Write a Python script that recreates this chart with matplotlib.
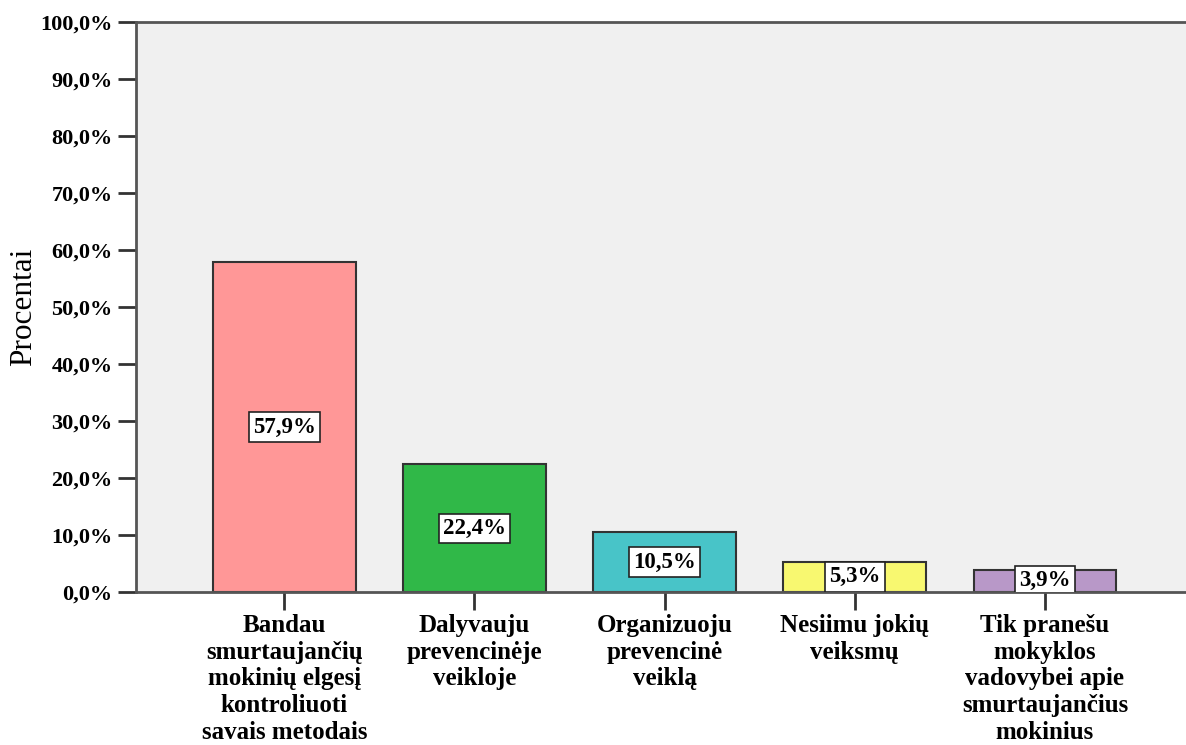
import matplotlib
matplotlib.use("Agg")
import matplotlib.pyplot as plt
from matplotlib.ticker import FuncFormatter, MultipleLocator

categories = [
    "Bandau\nsmurtaujančių\nmokinių elgesį\nkontroliuoti\nsavais metodais",
    "Dalyvauju\nprevencinėje\nveikloje",
    "Organizuoju\nprevencinė\nveiklą",
    "Nesiimu jokių\nveiksmų",
    "Tik pranešu\nmokyklos\nvadovybei apie\nsmurtaujančius\nmokinius",
]
values = [57.9, 22.4, 10.5, 5.3, 3.9]
colors = ["#FF9797", "#30B848", "#48C4C8", "#F8F870", "#B898C8"]
ylabel = "Procentai"

plt.rcParams['font.family'] = ['Liberation Serif', 'DejaVu Serif']
plt.rcParams['font.weight'] = 'bold'

W, H = 1186, 745
fig = plt.figure(figsize=(W / 100, H / 100), dpi=100)
fig.patch.set_facecolor("white")
ax = fig.add_axes([136 / W, 1 - 592 / H, 1 - 136 / W, (592 - 22) / H])
ax.set_facecolor("#F0F0F0")

x = list(range(len(categories)))
bars = ax.bar(x, values, width=0.75, color=colors, edgecolor="#333333", linewidth=1.5, zorder=2)

for xi, v in zip(x, values):
    ax.text(xi, v / 2, f"{v:.1f}%".replace(".", ","), ha="center", va="center",
            fontsize=16.5, fontweight="bold", zorder=3, clip_on=True,
            bbox=dict(boxstyle="square,pad=0.18", facecolor="white", edgecolor="#222222", linewidth=1.2))

ax.set_xlim(-0.78, 4 + (1186 - 1045) / 190)
ax.set_ylim(0, 100)
ax.yaxis.set_major_locator(MultipleLocator(10))
ax.yaxis.set_major_formatter(FuncFormatter(lambda v, p: f"{v:.1f}%".replace(".", ",")))
ax.set_xticks(x)
ax.set_xticklabels(categories, fontsize=18, fontweight="bold", linespacing=1.2)
for lbl in ax.get_yticklabels():
    lbl.set_fontsize(16)
    lbl.set_fontweight("bold")
ax.tick_params(axis="both", direction="out", length=13, width=2, color="#333333")
ax.tick_params(axis="x", pad=3)
ax.tick_params(axis="y", pad=4)

for s in ["left", "bottom", "top"]:
    ax.spines[s].set_color("#555555")
    ax.spines[s].set_linewidth(2)
ax.spines["right"].set_visible(False)

ax.set_ylabel(ylabel, fontsize=22.5, fontweight="normal", va="center")
ax.yaxis.set_label_coords(-(136 - 24) / (W - 136), 0.5)

fig.savefig("out.png", dpi=100)
